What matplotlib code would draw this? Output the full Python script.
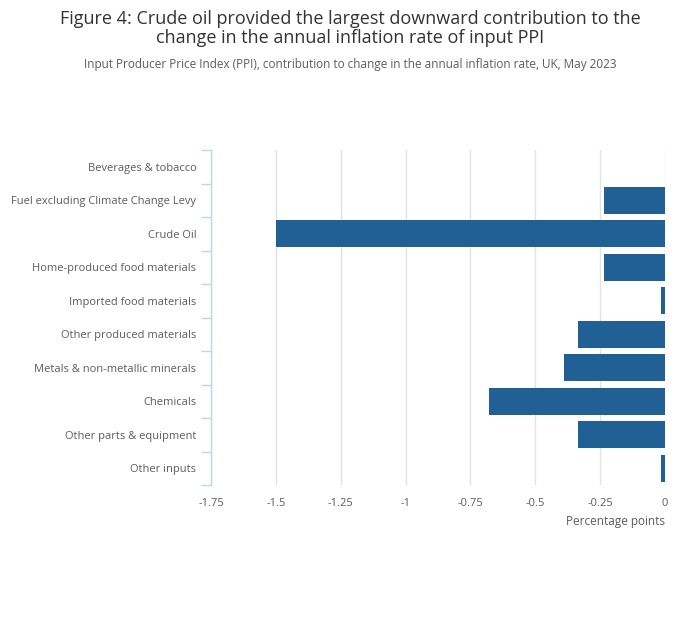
import numpy as np
import matplotlib
matplotlib.use('Agg')
import matplotlib.pyplot as plt
from matplotlib.ticker import FixedLocator

plt.rcParams['font.family'] = ['Open Sans', 'DejaVu Sans']

categories = ['Beverages & tobacco', 'Fuel excluding Climate Change Levy', 'Crude Oil',
              'Home-produced food materials', 'Imported food materials',
              'Other produced materials', 'Metals & non-metallic minerals',
              'Chemicals', 'Other parts & equipment', 'Other inputs']
values = [0.0, -0.235, -1.50, -0.235, -0.015, -0.335, -0.39, -0.68, -0.335, -0.015]
xticks = [-1.75, -1.5, -1.25, -1, -0.75, -0.5, -0.25, 0]
xtick_labels = ['-1.75', '-1.5', '-1.25', '-1', '-0.75', '-0.5', '-0.25', '0']

fig = plt.figure(figsize=(7, 6.35), dpi=100)
ax = fig.add_axes([211/700, 1-485/635, (665-211)/700, (485-150)/635])

y = np.arange(len(categories))
ax.barh(y, values, height=0.8, color='#206095', zorder=3)

ax.set_xlim(-1.75, 0)
ax.set_ylim(len(categories)-0.5, -0.5)
ax.set_xticks(xticks)
ax.set_xticklabels(xtick_labels)
ax.set_yticks(y)
ax.set_yticklabels(categories)
ax.yaxis.set_minor_locator(FixedLocator(np.arange(-0.5, len(categories), 1)))

ax.grid(axis='x', color='#e2e2e2', linewidth=1, zorder=0)
for s in ['top', 'right', 'bottom']:
    ax.spines[s].set_visible(False)
ax.spines['left'].set_color('#c5d3ea')
ax.spines['left'].set_linewidth(1)

# pads are in points
ax.tick_params(axis='y', which='major', length=0, pad=10.5, labelsize=8, labelcolor='#5c5c5c')
ax.tick_params(axis='y', which='minor', length=7, color='#c5d3ea', width=1)
ax.tick_params(axis='x', length=0, pad=9, labelsize=8, labelcolor='#5c5c5c')

ax.set_xlabel('Percentage points', fontsize=8.5, color='#5c5c5c', loc='right', labelpad=5)

fig.text(0.5, 1-10/635, 'Figure 4: Crude oil provided the largest downward contribution to the\nchange in the annual inflation rate of input PPI',
         ha='center', va='top', fontsize=13, color='#333333', linespacing=1.05)
fig.text(0.5, 1-58/635, 'Input Producer Price Index (PPI), contribution to change in the annual inflation rate, UK, May 2023',
         ha='center', va='top', fontsize=8.5, color='#5c5c5c')

fig.savefig('out.png', dpi=100)
